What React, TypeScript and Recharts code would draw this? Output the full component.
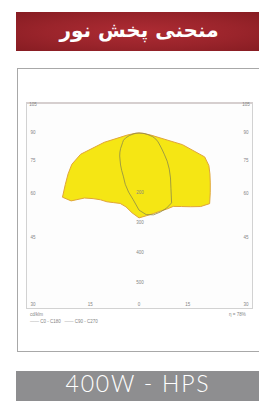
import React from 'react';
import { RadarChart, Radar, PolarAngleAxis, PolarRadiusAxis } from 'recharts';

// gamma angle (deg from nadir, negative = left side)
const gammaAngles = [
  -90, -85, -80, -75, -70, -65, -60, -55, -50, -45, -40, -35, -30, -25, -20, -15, -10, -5,
  0, 5, 10, 15, 20, 25, 30, 35, 40, 45, 50, 55, 60, 65, 70, 75, 80, 85, 90,
];
// luminous intensity, cd/klm
const planeC0C180 = [
  0, 13, 40, 120, 207, 247, 273, 300, 333, 320, 283, 267, 257, 253, 247, 243, 250, 267,
  283, 277, 273, 270, 270, 270, 283, 300, 320, 333, 310, 290, 273, 257, 233, 150, 40, 13, 0,
];
const planeC90C270 = [
  0, 10, 20, 33, 47, 57, 63, 70, 80, 90, 100, 110, 123, 137, 153, 177, 200, 223,
  257, 273, 277, 273, 267, 257, 213, 183, 157, 133, 110, 93, 80, 70, 60, 47, 30, 17, 0,
];
const sideTickAngles = [105, 90, 75, 60, 45];
const bottomTickAngles = [30, 15, 0, 15, 30];
const intensityTicks = [200, 300, 400, 500];

const chartData = gammaAngles.map((g, i) => ({ g, c0: planeC0C180[i], c90: planeC90C270[i] }));

// layout
const FRAME = { left: 26, top: 102, width: 227, height: 207 };
const ORIGIN = { x: 139, y: 133 };
const PX_PER_CD = 0.3;
const MAX_CD = 600;

const tickStyle: React.CSSProperties = {
  position: 'absolute',
  transform: 'translate(-50%, -50%)',
  fontSize: 4.5,
  lineHeight: 1,
  color: '#858585',
  fontFamily: "'Liberation Sans', Arial, sans-serif",
  whiteSpace: 'nowrap',
};

const App: React.FC = () => {
  const sideDx = 105;
  const bottomY = 305;
  return (
    <div style={{ position: 'absolute', left: 0, top: 0, width: 259, height: 401, background: '#fff', overflow: 'hidden' }}>
      {/* title banner */}
      <div
        style={{
          position: 'absolute', left: 16, top: 12, width: 250, height: 39,
          background: 'radial-gradient(ellipse at 50% 50%, #ad2b33 0%, #9a242b 55%, #861c22 100%)',
          color: '#fff', fontFamily: "'DejaVu Sans', sans-serif", fontWeight: 'bold', fontSize: 20,
          display: 'flex', alignItems: 'center', justifyContent: 'center', paddingRight: 4, paddingBottom: 3, boxSizing: 'border-box',
        }}
        dir="rtl"
      >
        منحنی پخش نور
      </div>

      {/* white card */}
      <div style={{ position: 'absolute', left: 17, top: 68, width: 260, height: 284, border: '1.5px solid #a8a8a8', boxSizing: 'border-box' }} />

      {/* plot frame */}
      <div
        style={{
          position: 'absolute', left: FRAME.left, top: FRAME.top, width: FRAME.width, height: FRAME.height,
          border: '1px solid #d2d2d2', borderTop: '2px solid #d6cfcf', background: '#fdfdfd', boxSizing: 'border-box',
        }}
      >
        <div style={{ position: 'absolute', left: -1, top: -2 }}>
          <RadarChart
            width={FRAME.width}
            height={FRAME.height}
            data={chartData}
            cx={ORIGIN.x - FRAME.left}
            cy={ORIGIN.y - FRAME.top}
            outerRadius={MAX_CD * PX_PER_CD}
            startAngle={-180}
            endAngle={0}
            margin={{ top: 0, right: 0, bottom: 0, left: 0 }}
          >
            <PolarAngleAxis dataKey="g" type="number" domain={[-90, 90]} tick={false} axisLine={false} />
            <PolarRadiusAxis domain={[0, MAX_CD]} tick={false} axisLine={false} />
            <Radar dataKey="c0" fill="#f5e614" fillOpacity={1} stroke="#e0a53a" strokeWidth={1} isAnimationActive={false} dot={false} />
            <Radar dataKey="c90" fill="none" fillOpacity={0} stroke="#8c8a4a" strokeWidth={0.8} isAnimationActive={false} dot={false} />
          </RadarChart>
        </div>
      </div>

      {/* angle labels on frame sides */}
      {sideTickAngles.map((a) => {
        const y = ORIGIN.y + sideDx / Math.tan((a * Math.PI) / 180);
        return (
          <React.Fragment key={`s${a}`}>
            <span style={{ ...tickStyle, left: 33, top: y }}>{a}</span>
            <span style={{ ...tickStyle, left: 246, top: y }}>{a}</span>
          </React.Fragment>
        );
      })}
      {bottomTickAngles.map((a, i) => {
        const sign = i < 2 ? -1 : 1;
        const x = i === 0 ? 33 : i === 4 ? 246 : ORIGIN.x + sign * (bottomY - ORIGIN.y) * Math.tan((a * Math.PI) / 180) * 1.06;
        return <span key={`b${i}`} style={{ ...tickStyle, left: x, top: bottomY }}>{a}</span>;
      })}
      {intensityTicks.map((v) => (
        <span key={`v${v}`} style={{ ...tickStyle, left: ORIGIN.x + 1, top: ORIGIN.y + v * PX_PER_CD }}>{v}</span>
      ))}

      {/* legend */}
      <span style={{ ...tickStyle, transform: 'none', left: 30, top: 313 }}>cd/klm</span>
      <span style={{ ...tickStyle, transform: 'none', left: 30, top: 320 }}>
        <span style={{ color: '#9a9a9a' }}>——</span> C0 - C180&nbsp;&nbsp;&nbsp;<span style={{ color: '#9a9a9a' }}>——</span> C90 - C270
      </span>
      <span style={{ ...tickStyle, transform: 'none', left: 229, top: 313 }}>η = 78%</span>

      {/* lamp type bar */}
      <div
        style={{
          position: 'absolute', left: 16, top: 371, width: 250, height: 32, background: '#8e8e90',
          color: '#fff', fontFamily: "Lato, 'Open Sans', sans-serif", fontWeight: 300, fontSize: 23, letterSpacing: 1.8,
          display: 'flex', alignItems: 'center', justifyContent: 'center', paddingRight: 6, paddingBottom: 9, boxSizing: 'border-box',
        }}
      >
        400W - HPS
      </div>
    </div>
  );
};

export default App;
